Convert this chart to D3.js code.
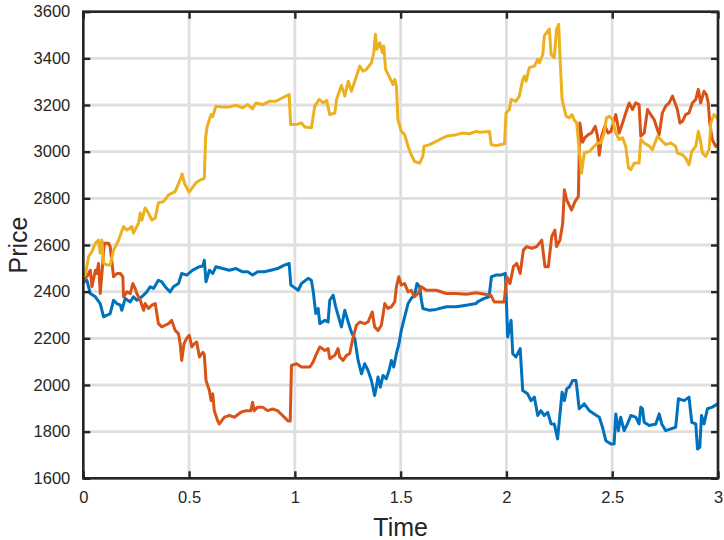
<!DOCTYPE html>
<html><head><meta charset="utf-8">
<script src="https://cdn.jsdelivr.net/npm/d3@7"></script>
<style>body{margin:0;background:#fff}svg{display:block}</style>
</head><body>
<script>
const xTicks = [0, 0.5, 1, 1.5, 2, 2.5, 3];
const yTicks = [1600, 1800, 2000, 2200, 2400, 2600, 2800, 3000, 3200, 3400, 3600];

const blueT = [0,0.017,0.033,0.057,0.08,0.096,0.112,0.127,0.143,0.159,0.175,0.182,0.198,0.222,0.237,0.253,0.277,0.3,0.316,0.332,0.355,0.371,0.387,0.41,0.426,0.45,0.465,0.489,0.517,0.549,0.565,0.572,0.58,0.596,0.612,0.627,0.659,0.69,0.722,0.753,0.777,0.8,0.824,0.855,0.887,0.918,0.95,0.973,0.981,1.016,1.031,1.063,1.078,1.086,1.099,1.11,1.118,1.142,1.157,1.165,1.181,1.193,1.204,1.22,1.236,1.252,1.267,1.283,1.299,1.315,1.33,1.346,1.362,1.377,1.385,1.393,1.404,1.417,1.432,1.445,1.456,1.467,1.48,1.492,1.503,1.519,1.535,1.55,1.566,1.577,1.59,1.598,1.605,1.637,1.668,1.716,1.763,1.81,1.857,1.863,1.895,1.918,1.929,1.95,1.973,1.995,2.006,2.022,2.03,2.045,2.065,2.077,2.1,2.116,2.132,2.148,2.163,2.179,2.195,2.211,2.226,2.242,2.25,2.263,2.274,2.285,2.297,2.313,2.329,2.344,2.368,2.392,2.415,2.439,2.454,2.47,2.494,2.509,2.517,2.529,2.54,2.556,2.572,2.588,2.611,2.627,2.635,2.643,2.651,2.675,2.706,2.722,2.734,2.753,2.777,2.8,2.813,2.84,2.863,2.876,2.895,2.903,2.914,2.922,2.934,2.95,2.973,3.0];
const blueV = [2440,2449,2392,2378,2349,2292,2299,2306,2363,2349,2342,2320,2371,2356,2378,2363,2378,2399,2421,2414,2449,2442,2421,2399,2421,2435,2478,2471,2492,2507,2510,2535,2442,2492,2478,2507,2499,2492,2499,2485,2485,2471,2485,2485,2492,2499,2514,2521,2428,2406,2435,2457,2449,2406,2306,2328,2263,2277,2270,2363,2385,2335,2299,2249,2320,2270,2227,2199,2105,2048,2091,2062,2019,1955,1991,2034,1991,2041,2027,2062,2105,2077,2134,2177,2234,2292,2349,2371,2385,2435,2421,2363,2328,2320,2324,2335,2335,2342,2349,2356,2371,2378,2464,2471,2471,2478,2206,2277,2134,2120,2156,1976,1962,1933,1948,1869,1890,1869,1883,1833,1833,1769,1847,1969,1933,1984,1991,2019,2019,1898,1919,1890,1876,1862,1819,1761,1747,1747,1876,1804,1862,1804,1833,1869,1862,1833,1905,1898,1840,1826,1833,1876,1833,1804,1812,1819,1941,1933,1948,1840,1833,1726,1733,1869,1833,1898,1905,1920];

const orangeT = [0,0.017,0.033,0.041,0.057,0.064,0.072,0.08,0.088,0.099,0.12,0.127,0.143,0.159,0.175,0.187,0.19,0.206,0.222,0.234,0.245,0.253,0.269,0.285,0.292,0.308,0.324,0.34,0.355,0.371,0.387,0.403,0.418,0.434,0.45,0.458,0.465,0.476,0.489,0.501,0.513,0.525,0.536,0.549,0.565,0.572,0.58,0.596,0.604,0.612,0.619,0.635,0.643,0.667,0.69,0.714,0.745,0.769,0.792,0.8,0.808,0.824,0.848,0.871,0.895,0.918,0.942,0.966,0.978,0.984,1.008,1.031,1.071,1.086,1.099,1.118,1.142,1.157,1.165,1.189,1.204,1.212,1.228,1.244,1.259,1.272,1.291,1.307,1.33,1.346,1.366,1.377,1.393,1.409,1.425,1.44,1.456,1.472,1.48,1.491,1.503,1.519,1.535,1.55,1.566,1.582,1.598,1.621,1.668,1.716,1.763,1.81,1.857,1.926,1.942,1.989,2.002,2.017,2.033,2.049,2.065,2.08,2.096,2.119,2.143,2.167,2.182,2.198,2.214,2.229,2.237,2.253,2.266,2.274,2.285,2.308,2.324,2.34,2.347,2.36,2.371,2.387,2.402,2.42,2.432,2.439,2.45,2.465,2.481,2.494,2.517,2.533,2.549,2.564,2.58,2.596,2.611,2.627,2.635,2.651,2.667,2.682,2.698,2.714,2.722,2.737,2.753,2.769,2.785,2.797,2.808,2.82,2.832,2.847,2.863,2.879,2.895,2.907,2.918,2.934,2.945,2.954,2.961,2.973,2.989,3.0];
const orangeV = [2450,2464,2492,2421,2492,2478,2521,2392,2478,2607,2607,2593,2464,2478,2478,2464,2378,2399,2392,2435,2414,2392,2363,2320,2349,2328,2342,2349,2263,2249,2256,2263,2277,2234,2220,2177,2105,2177,2200,2213,2163,2177,2184,2120,2140,2130,2019,1976,1933,1962,1890,1847,1833,1862,1869,1862,1883,1890,1890,1926,1890,1905,1905,1890,1897,1890,1869,1847,1845,2084,2091,2077,2077,2098,2127,2163,2148,2156,2113,2127,2156,2120,2105,2127,2134,2191,2256,2270,2263,2270,2313,2249,2234,2256,2349,2328,2335,2356,2421,2464,2428,2435,2399,2406,2378,2392,2421,2406,2406,2392,2392,2389,2395,2385,2356,2356,2464,2435,2507,2521,2478,2578,2593,2586,2593,2621,2507,2507,2636,2664,2593,2621,2693,2837,2793,2750,2786,2808,3123,3040,3060,3073,3080,3109,3060,2985,3066,3109,3080,3087,3159,3080,3123,3166,3209,3181,3209,3202,3066,3080,3181,3159,3138,3094,3073,3166,3195,3209,3238,3209,3181,3123,3130,3159,3166,3209,3224,3267,3209,3259,3245,3209,3123,3052,3023,3030];

const yellowT = [0,0.01,0.025,0.04,0.057,0.072,0.08,0.088,0.096,0.11,0.127,0.143,0.167,0.19,0.206,0.23,0.237,0.261,0.269,0.277,0.292,0.308,0.324,0.34,0.355,0.379,0.403,0.434,0.458,0.467,0.48,0.5,0.515,0.533,0.555,0.572,0.578,0.585,0.596,0.604,0.612,0.619,0.627,0.659,0.69,0.722,0.753,0.777,0.8,0.816,0.848,0.879,0.91,0.942,0.973,0.98,1.013,1.031,1.047,1.078,1.094,1.115,1.134,1.15,1.165,1.189,1.197,1.22,1.236,1.252,1.267,1.283,1.307,1.322,1.338,1.362,1.373,1.381,1.388,1.401,1.414,1.42,1.429,1.448,1.464,1.472,1.48,1.487,1.503,1.519,1.535,1.55,1.566,1.59,1.605,1.61,1.637,1.668,1.716,1.763,1.794,1.825,1.857,1.873,1.92,1.928,1.951,1.991,1.998,2.014,2.022,2.045,2.061,2.077,2.085,2.093,2.108,2.132,2.148,2.156,2.172,2.179,2.195,2.203,2.211,2.226,2.237,2.247,2.253,2.263,2.282,2.297,2.31,2.321,2.332,2.344,2.355,2.368,2.392,2.415,2.431,2.446,2.462,2.473,2.486,2.501,2.517,2.533,2.549,2.564,2.577,2.588,2.604,2.627,2.635,2.651,2.675,2.69,2.714,2.729,2.753,2.777,2.8,2.808,2.832,2.847,2.863,2.876,2.895,2.907,2.918,2.926,2.942,2.958,2.966,2.981,3.0];
const yellowV = [2465,2471,2550,2570,2608,2621,2565,2621,2522,2515,2514,2578,2621,2679,2664,2679,2651,2694,2737,2707,2759,2737,2707,2716,2781,2786,2815,2829,2880,2905,2860,2827,2845,2867,2880,2885,3060,3105,3138,3159,3150,3173,3195,3192,3192,3199,3188,3202,3184,3209,3202,3216,3216,3231,3245,3116,3118,3123,3106,3102,3195,3224,3209,3220,3159,3166,3224,3284,3238,3302,3259,3302,3367,3345,3353,3381,3424,3503,3439,3467,3424,3453,3353,3317,3288,3310,3281,3138,3087,3073,3023,2987,2958,2951,2980,3023,3030,3044,3066,3073,3080,3077,3087,3083,3087,3030,3026,3034,3166,3181,3224,3216,3238,3310,3324,3302,3360,3367,3396,3381,3417,3496,3517,3525,3417,3403,3525,3546,3410,3224,3152,3145,3159,3135,3123,3009,2908,2994,3001,3023,3037,3037,3080,3145,3152,3138,3080,3052,3059,3023,2930,2923,2951,2951,3052,3037,3023,3009,3066,3052,3030,3037,3023,2994,2987,2973,2944,3001,3023,3087,3044,2994,2980,3009,3123,3159,3140];

const seriesColors = ["#0072BD", "#D95319", "#EDB120"];

const W = 724, H = 540;
const L = 83.3, R = 718, T = 11.7, B = 478.3;
const svg = d3.select("body").append("svg").attr("width", W).attr("height", H);
const x = d3.scaleLinear().domain([0, 3]).range([L, R]);
const y = d3.scaleLinear().domain([1600, 3600]).range([B, T]);
const font = "'Liberation Sans', Arial, Helvetica, sans-serif";
const axisCol = "#262626";

// grid
const g = svg.append("g");
g.selectAll(".gx").data(xTicks).join("line")
  .attr("x1", d => x(d)).attr("x2", d => x(d)).attr("y1", T).attr("y2", B)
  .attr("stroke", "#dfdfdf").attr("stroke-width", 2.8);
g.selectAll(".gy").data(yTicks).join("line")
  .attr("y1", d => y(d)).attr("y2", d => y(d)).attr("x1", L).attr("x2", R)
  .attr("stroke", "#dfdfdf").attr("stroke-width", 2.8);

// lines
svg.append("clipPath").attr("id", "clip").append("rect")
  .attr("x", L).attr("y", T).attr("width", R - L).attr("height", B - T);
const line = d3.line().x(d => x(d[0])).y(d => y(d[1]));
const series = [[blueT, blueV], [orangeT, orangeV], [yellowT, yellowV]];
series.forEach(([ts, vs], i) => {
  svg.append("path").attr("clip-path", "url(#clip)")
    .datum(ts.map((t, k) => [t, vs[k]]))
    .attr("d", line).attr("fill", "none")
    .attr("stroke", seriesColors[i]).attr("stroke-width", 3)
    .attr("stroke-linejoin", "round").attr("stroke-linecap", "round");
});

// axes (ticks inside)
const tl = 7;
const axB = svg.append("g").attr("transform", `translate(0,${B})`)
  .call(d3.axisBottom(x).tickValues(xTicks).tickSizeInner(-tl).tickSizeOuter(0).tickPadding(13).tickFormat(d3.format("")));
const axT = svg.append("g").attr("transform", `translate(0,${T})`)
  .call(d3.axisTop(x).tickValues(xTicks).tickSizeInner(-tl).tickSizeOuter(0).tickFormat(""));
const axL = svg.append("g").attr("transform", `translate(${L},0)`)
  .call(d3.axisLeft(y).tickValues(yTicks).tickSizeInner(-tl).tickSizeOuter(0).tickPadding(13).tickFormat(d3.format("")));
const axR = svg.append("g").attr("transform", `translate(${R},0)`)
  .call(d3.axisRight(y).tickValues(yTicks).tickSizeInner(-tl).tickSizeOuter(0).tickFormat(""));
[axB, axT, axL, axR].forEach(a => {
  a.selectAll("path").remove();
  a.selectAll("line").attr("stroke", axisCol).attr("stroke-width", 2.4);
  a.selectAll("text").attr("fill", axisCol).style("font-family", font).style("font-size", "16.5px");
});
axB.selectAll("text").attr("dy", "0.71em");
svg.append("rect").attr("x", L).attr("y", T).attr("width", R - L).attr("height", B - T)
  .attr("fill", "none").attr("stroke", axisCol).attr("stroke-width", 2.6);

svg.append("text").attr("x", (L + R) / 2).attr("y", 536).attr("text-anchor", "middle")
  .attr("fill", axisCol).style("font-family", font).style("font-size", "25px").text("Time");
svg.append("text").attr("transform", `translate(27,${(T + B) / 2}) rotate(-90)`)
  .attr("text-anchor", "middle").attr("fill", axisCol)
  .style("font-family", font).style("font-size", "25px").text("Price");
</script>
</body></html>
